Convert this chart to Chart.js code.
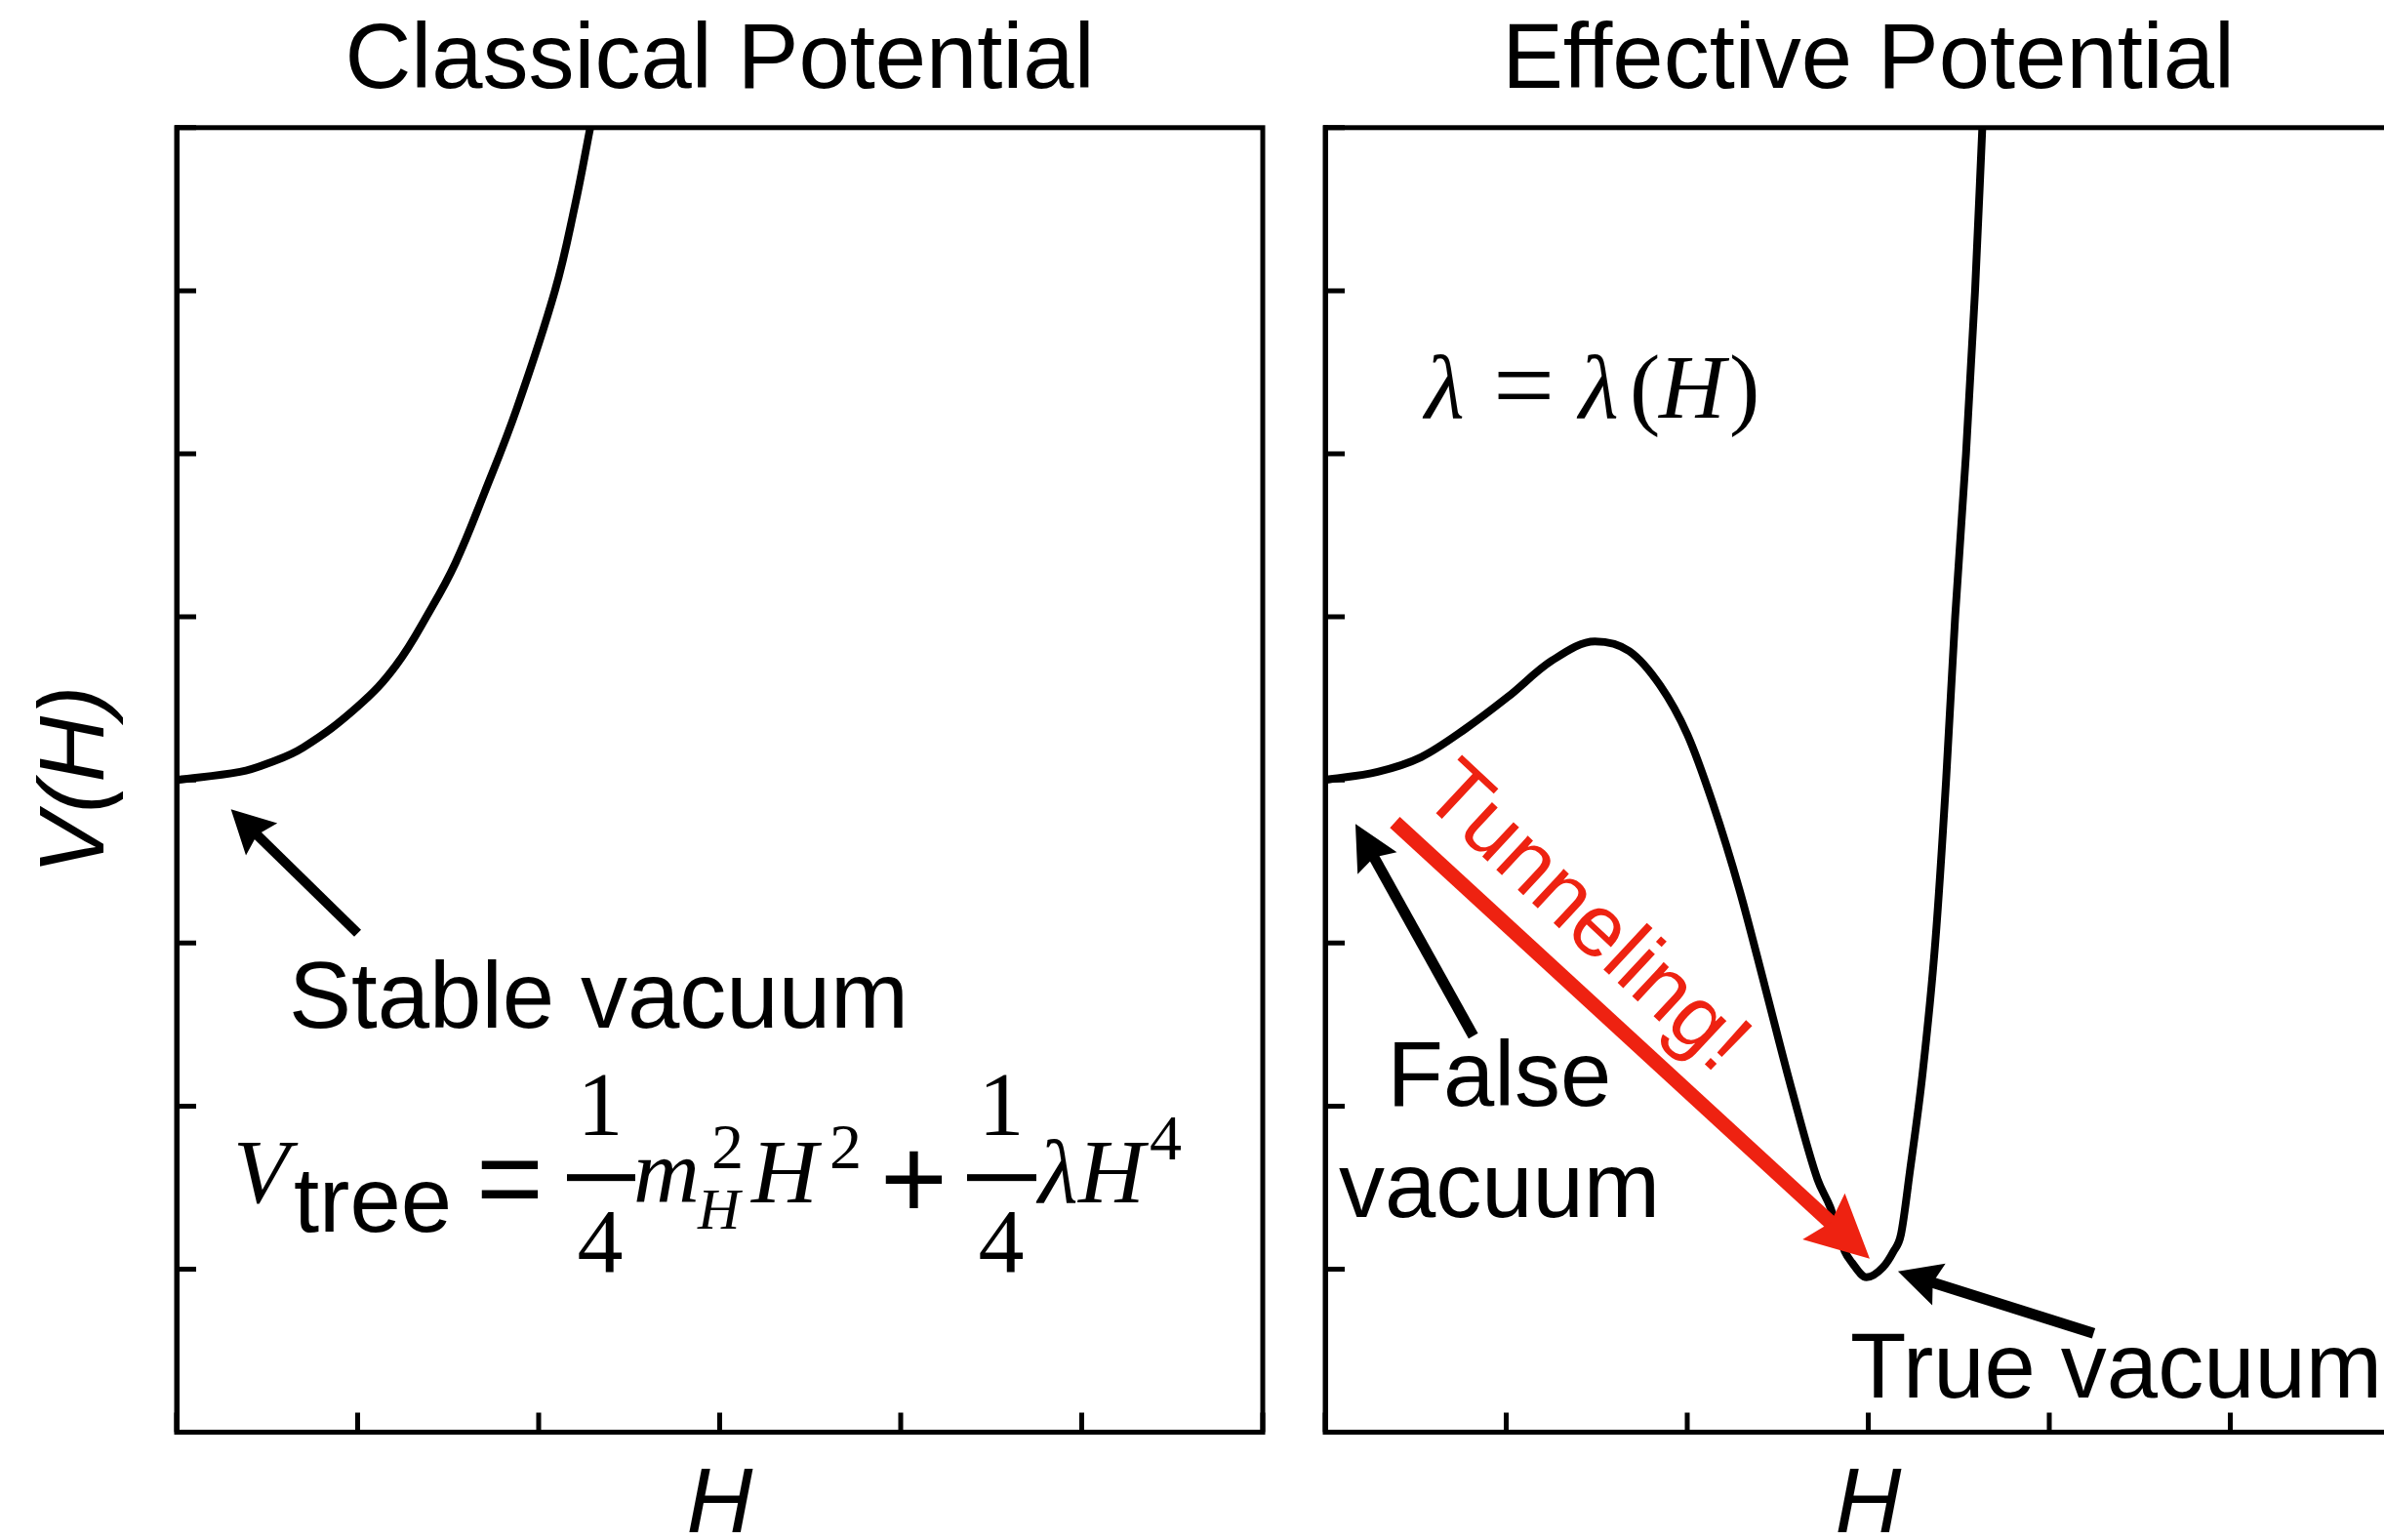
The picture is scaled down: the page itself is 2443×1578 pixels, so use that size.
<!DOCTYPE html>
<html>
<head>
<meta charset="utf-8">
<script src="https://cdn.jsdelivr.net/npm/chart.js@4.4.0/dist/chart.umd.min.js"></script>
<style>
  html, body { margin: 0; padding: 0; background: #fff; overflow: hidden; width: 2443px; height: 1578px; }
  canvas { position: absolute; top: 0; }
  #classicalChart { left: 0; }
  #effectiveChart { left: 1300px; }
</style>
</head>
<body>
<canvas id="classicalChart" width="1326" height="1600"></canvas>
<canvas id="effectiveChart" width="1300" height="1600"></canvas>
<script>
// axes are unitless: H runs 0..6, V runs 0..8, ticks only (no labels)
const xTickValues = [0, 1, 2, 3, 4, 5, 6];
const yTickValues = [0, 1, 2, 3, 4, 5, 6, 7, 8];

// classical (tree level) potential
const classicalH = [0, 0.35, 0.5, 0.7, 1.0, 1.21, 1.4, 1.54, 1.7, 1.88, 2.09, 2.2, 2.285];
const classicalV = [4.0, 4.05, 4.1, 4.2, 4.45, 4.7, 5.04, 5.33, 5.76, 6.28, 7.0, 7.52, 8.0];

// effective potential with running lambda
const effectiveH = [0, 0.29, 0.53, 0.77, 1.01, 1.25, 1.49, 1.68, 1.85, 2.0, 2.14, 2.29, 2.43, 2.58, 2.72,
  2.79, 2.87, 2.91, 2.99, 3.08, 3.14, 3.18, 3.23, 3.3, 3.37, 3.43, 3.48, 3.54, 3.59, 3.63];
const effectiveV = [4.0, 4.05, 4.14, 4.31, 4.51, 4.73, 4.85, 4.79, 4.58, 4.28, 3.86, 3.32, 2.73, 2.09, 1.55,
  1.38, 1.11, 1.04, 0.95, 1.01, 1.11, 1.21, 1.6, 2.2, 3.0, 4.0, 5.0, 6.0, 7.0, 8.0];

const SANS = '"Liberation Sans", Arial, Helvetica, sans-serif';
const SERIF = '"Liberation Serif", "Times New Roman", serif';
const RED = "#ee2211";

function series(hs, vs) {
  return hs.map((h, i) => ({ x: h, y: vs[i] }));
}

function arrow(ctx, x0, y0, x1, y1, color, shaft, headLen, headW) {
  const ang = Math.atan2(y1 - y0, x1 - x0);
  const c = Math.cos(ang), s = Math.sin(ang);
  const bx = x1 - headLen * c, by = y1 - headLen * s;
  ctx.save();
  ctx.strokeStyle = color;
  ctx.fillStyle = color;
  ctx.lineWidth = shaft;
  ctx.lineCap = "butt";
  ctx.beginPath();
  ctx.moveTo(x0, y0);
  ctx.lineTo(bx + 0.3 * headLen * c, by + 0.3 * headLen * s);
  ctx.stroke();
  ctx.beginPath();
  ctx.moveTo(x1, y1);
  ctx.lineTo(bx + headW / 2 * s, by - headW / 2 * c);
  ctx.lineTo(bx + 0.15 * headLen * c, by + 0.15 * headLen * s);
  ctx.lineTo(bx - headW / 2 * s, by + headW / 2 * c);
  ctx.closePath();
  ctx.fill();
  ctx.restore();
}

function text(ctx, str, font, x, y, align) {
  ctx.font = font;
  ctx.textAlign = align || "left";
  ctx.textBaseline = "alphabetic";
  ctx.fillText(str, x, y);
}

// inward ticks and the closed frame
const framePlugin = {
  id: "frame",
  afterDraw(chart) {
    const { ctx, chartArea: a, scales: { x, y } } = chart;
    ctx.save();
    ctx.strokeStyle = "#000";
    ctx.lineWidth = 5;
    ctx.strokeRect(a.left, a.top, a.right - a.left, a.bottom - a.top);
    ctx.beginPath();
    xTickValues.forEach(v => {
      const px = x.getPixelForValue(v);
      ctx.moveTo(px, a.bottom);
      ctx.lineTo(px, a.bottom - 20);
    });
    yTickValues.forEach(v => {
      const py = y.getPixelForValue(v);
      ctx.moveTo(a.left, py);
      ctx.lineTo(a.left + 20, py);
    });
    ctx.stroke();
    ctx.restore();
  }
};

function notes(draw) {
  return {
    id: "notes",
    afterDraw(chart) {
      const { ctx, scales: { x, y } } = chart;
      ctx.save();
      ctx.fillStyle = "#000";
      draw(ctx, v => x.getPixelForValue(v), v => y.getPixelForValue(v));
      ctx.restore();
    }
  };
}

const classicalNotes = notes((ctx, px, py) => {
  arrow(ctx, px(1.0), py(3.06), px(0.30), py(3.82), "#000", 10, 44, 46);
  text(ctx, "Stable vacuum", "96px " + SANS, px(0.62), py(2.48));

  // V_tree = 1/4 m_H^2 H^2 + 1/4 lambda H^4
  const ox = px(0.345), oy = py(1.412);
  const big = "94px " + SERIF, bigI = "italic 94px " + SERIF;
  const sup = "66px " + SERIF, subI = "italic 60px " + SERIF;
  const op = "118px " + SANS;
  text(ctx, "V", bigI, ox - 6, oy);
  text(ctx, "tree", "94px " + SANS, ox + 56, oy + 30);
  text(ctx, "=", op, ox + 243, oy + 16);
  ctx.fillRect(ox + 336, oy - 28.5, 70, 7);
  text(ctx, "1", big, ox + 370, oy - 69, "center");
  text(ctx, "4", big, ox + 370, oy + 71, "center");
  text(ctx, "m", bigI, ox + 404, oy);
  text(ctx, "2", sup, ox + 484, oy - 35);
  text(ctx, "H", subI, ox + 470, oy + 27);
  text(ctx, "H", bigI, ox + 525, oy);
  text(ctx, "2", sup, ox + 605, oy - 35);
  text(ctx, "+", op, ox + 657, oy + 16);
  ctx.fillRect(ox + 746, oy - 28.5, 71, 7);
  text(ctx, "1", big, ox + 781, oy - 69, "center");
  text(ctx, "4", big, ox + 781, oy + 71, "center");
  text(ctx, "\u03bb", bigI, ox + 819, oy);
  text(ctx, "H", bigI, ox + 860, oy);
  text(ctx, "4", sup, ox + 933, oy - 44);
});

const effectiveNotes = notes((ctx, px, py) => {
  const lx = px(0.55), ly = py(6.22);
  const it = "italic 94px " + SERIF, up = "94px " + SERIF;
  text(ctx, "\u03bb", it, lx, ly);
  text(ctx, "=", "112px " + SERIF, lx + 70, ly + 4);
  text(ctx, "\u03bb", it, lx + 158, ly);
  text(ctx, "(", up, lx + 210, ly);
  text(ctx, "H", it, lx + 240, ly);
  text(ctx, ")", up, lx + 312, ly);

  arrow(ctx, px(0.818), py(2.43), px(0.167), py(3.73), "#000", 11, 46, 46);
  text(ctx, "False", "94px " + SANS, px(0.962), py(2.005), "center");
  text(ctx, "vacuum", "94px " + SANS, px(0.962), py(1.32), "center");

  arrow(ctx, px(4.245), py(0.606), px(3.164), py(0.986), "#000", 11, 44, 45);
  text(ctx, "True vacuum", "94px " + SANS, px(2.9), py(0.215));

  arrow(ctx, px(0.385), py(3.74), px(3.008), py(1.065), RED, 15, 64, 64);
  ctx.save();
  ctx.translate(px(0.52), py(3.89));
  ctx.rotate(43 * Math.PI / 180);
  ctx.fillStyle = RED;
  text(ctx, "Tunneling!", "90px " + SANS, 0, 0);
  ctx.restore();
});

function makeChart(id, title, data, yTitle, padding, extra, smooth) {
  return new Chart(document.getElementById(id), {
    type: "line",
    data: {
      datasets: [{
        data: data,
        borderColor: "#000",
        borderWidth: 8,
        pointRadius: 0,
        fill: false,
        tension: 0.4,
        cubicInterpolationMode: smooth
      }]
    },
    options: {
      responsive: false,
      animation: false,
      events: [],
      layout: { padding: padding },
      plugins: {
        legend: { display: false },
        tooltip: { enabled: false },
        title: {
          display: true,
          text: title,
          fullSize: false,
          color: "#000",
          font: { family: SANS, size: 94, weight: "normal", lineHeight: 1.2 },
          padding: { top: 8, bottom: 10 }
        }
      },
      scales: {
        x: {
          type: "linear",
          min: 0,
          max: 6,
          grid: { display: false, drawTicks: false },
          border: { display: true, color: "#000", width: 5 },
          ticks: { display: false },
          title: {
            display: true,
            text: "H",
            color: "#000",
            font: { family: SANS, size: 94, style: "italic", lineHeight: 1.2 },
            padding: { top: 19.6, bottom: 0 }
          }
        },
        y: {
          type: "linear",
          min: 0,
          max: 8,
          grid: { display: false, drawTicks: false },
          border: { display: true, color: "#000", width: 5 },
          ticks: { display: false },
          title: {
            display: !!yTitle,
            text: yTitle || "",
            color: "#000",
            font: { family: SANS, size: 94, style: "italic", lineHeight: 1.2 },
            padding: { top: 23, bottom: 45.2 }
          }
        }
      }
    },
    plugins: [framePlugin, extra]
  });
}

makeChart("classicalChart", "Classical Potential", series(classicalH, classicalV), "V(H)",
  { left: 0, right: 32, top: 0, bottom: 0 }, classicalNotes, "default");
makeChart("effectiveChart", "Effective Potential", series(effectiveH, effectiveV), null,
  { left: 58, right: 129, top: 0, bottom: 0 }, effectiveNotes, "monotone");
</script>
</body>
</html>
